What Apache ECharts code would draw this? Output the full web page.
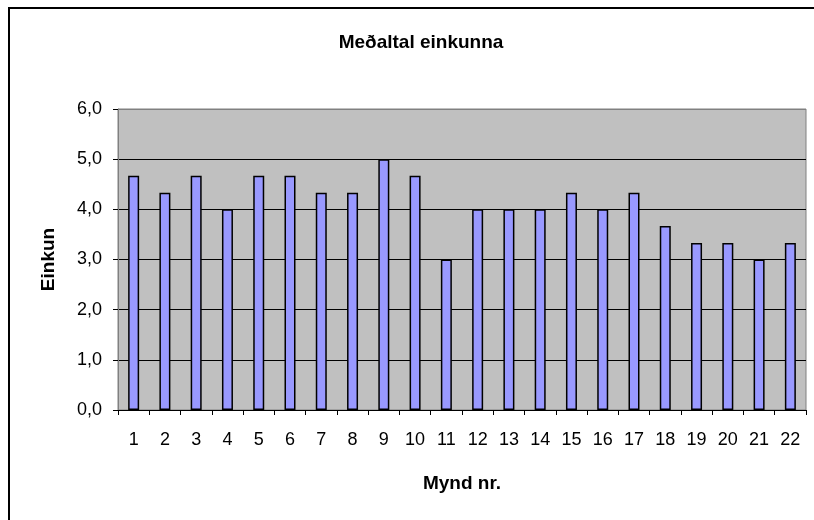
<!DOCTYPE html>
<html>
<head>
<meta charset="utf-8">
<script src="https://cdn.jsdelivr.net/npm/echarts@6/dist/echarts.min.js"></script>
<style>
    html, body { margin: 0; padding: 0; background: #fff; }
    #chart { width: 814px; height: 520px; }
</style>
</head>
<body>
<div id="chart"></div>
<script>
const categories = ['1', '2', '3', '4', '5', '6', '7', '8', '9', '10', '11',
    '12', '13', '14', '15', '16', '17', '18', '19', '20', '21', '22']
const averages = [4.67, 4.33, 4.67, 4.0, 4.67, 4.67, 4.33, 4.33, 5.0, 4.67, 3.0,
    4.0, 4.0, 4.0, 4.33, 4.0, 4.33, 3.67, 3.33, 3.33, 3.0, 3.33]
const yTicks = [0, 1, 2, 3, 4, 5, 6]

const font = '"Liberation Sans", Arial, sans-serif'

const myChart = echarts.init(document.getElementById('chart'))

const option = {
    animation: false,
    title: {
        text: 'Meðaltal einkunna',
        left: 416,
        top: 28,
        textAlign: 'center',
        textStyle: {
            fontFamily: font,
            fontSize: 19,
            fontWeight: 'bold',
            color: '#000'
        }
    },
    graphic: [
        {
            // outer chart frame, runs off the right and bottom edge
            type: 'rect',
            shape: { x: 9, y: 8, width: 830, height: 530 },
            style: { fill: 'none', stroke: '#000', lineWidth: 2 },
            silent: true
        }
    ],
    grid: {
        left: 118,
        right: 8,
        top: 109,
        bottom: 110,
        show: true,
        backgroundColor: '#C0C0C0',
        borderColor: '#808080',
        borderWidth: 1
    },
    xAxis: {
        type: 'category',
        data: categories,
        name: 'Mynd nr.',
        nameLocation: 'middle',
        nameGap: 64,
        nameTextStyle: {
            fontFamily: font,
            fontSize: 19,
            fontWeight: 'bold',
            color: '#000'
        },
        axisLine: { lineStyle: { color: '#000', width: 1 } },
        axisTick: { show: true, length: 5, alignWithLabel: false, lineStyle: { color: '#000' } },
        axisLabel: {
            fontFamily: font,
            fontSize: 18,
            color: '#000',
            margin: 21,
            interval: 0
        }
    },
    yAxis: {
        type: 'value',
        min: yTicks[0],
        max: yTicks[yTicks.length - 1],
        interval: 1,
        name: 'Einkun',
        nameLocation: 'middle',
        nameGap: 60,
        nameRotate: 90,
        nameTextStyle: {
            fontFamily: font,
            fontSize: 19,
            fontWeight: 'bold',
            color: '#000'
        },
        axisLine: { show: true, lineStyle: { color: '#808080', width: 1 } },
        axisTick: { show: true, length: 5, lineStyle: { color: '#000' } },
        axisLabel: {
            fontFamily: font,
            fontSize: 18,
            color: '#000',
            margin: 16,
            formatter: v => v.toFixed(1).replace('.', ',')
        },
        splitLine: {
            show: true,
            lineStyle: {
                color: ['#000', '#000', '#000', '#000', '#000', '#000', '#808080'],
                width: 1
            }
        }
    },
    series: [
        {
            type: 'bar',
            data: averages,
            barWidth: 11,
            itemStyle: {
                color: '#9999FF',
                borderColor: '#000',
                borderWidth: 1.5
            }
        }
    ]
}

myChart.setOption(option)
</script>
</body>
</html>
